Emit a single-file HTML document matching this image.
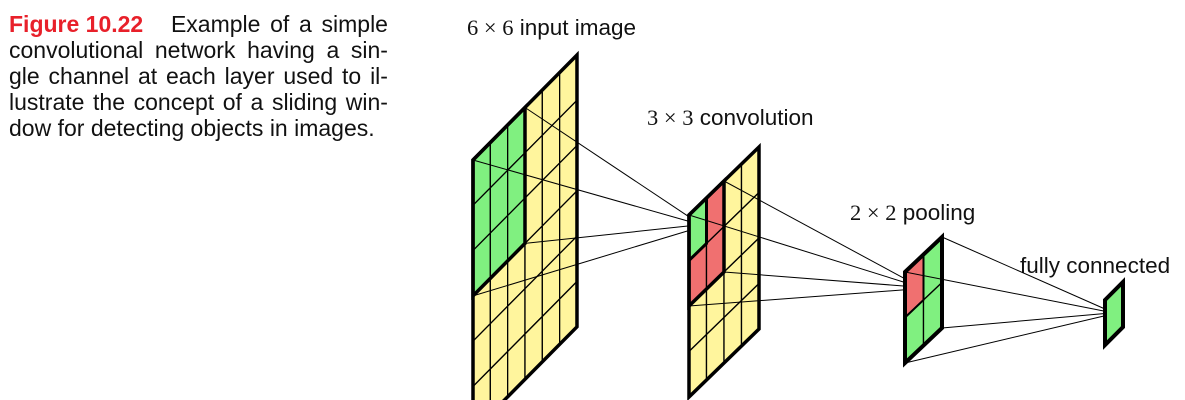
<!DOCTYPE html>
<html><head><style>
body{margin:0;width:1185px;height:400px;background:#fff;position:relative;overflow:hidden;font-family:"Liberation Sans",sans-serif;}
.cap{position:absolute;left:9px;top:11px;width:379px;font-size:23px;line-height:26px;color:#111;}
.cap div{white-space:nowrap;display:flex;justify-content:space-between;}
.cap div.last{display:block;}
.cap b{color:#e8202a;}
.lab{position:absolute;font-size:22.5px;line-height:normal;color:#111;white-space:nowrap;}
.lab i{font-family:"Liberation Serif",serif;font-style:normal;}
</style></head><body>
<div class="cap">
<div><b>Figure 10.22</b><span style="margin-left:18px">Example</span><span>of</span><span>a</span><span>simple</span></div>
<div><span>convolutional</span><span>network</span><span>having</span><span>a</span><span>sin-</span></div>
<div><span>gle</span><span>channel</span><span>at</span><span>each</span><span>layer</span><span>used</span><span>to</span><span>il-</span></div>
<div><span>lustrate</span><span>the</span><span>concept</span><span>of</span><span>a</span><span>sliding</span><span>win-</span></div>
<div class="last">dow for detecting objects in images.</div>
</div>
<div class="lab" style="left:467px;top:15px"><i>6 × 6</i> input image</div>
<div class="lab" style="left:647px;top:105px"><i>3 × 3</i> convolution</div>
<div class="lab" style="left:850px;top:200px"><i>2 × 2</i> pooling</div>
<div class="lab" style="left:1020px;top:253px">fully connected</div>
<svg width="1185" height="400" style="position:absolute;left:0;top:0" id="s"></svg>
<script>
const s=document.getElementById('s');
let out='';
function P(x0,y0,cw,dy,rh,c,r){return [x0+c*cw,y0-c*dy+r*rh];}
function poly(pts,fill,sw){out+=`<polygon points="${pts.map(p=>p.join(',')).join(' ')}" fill="${fill||'none'}" stroke="#000" stroke-width="${sw}" stroke-linejoin="miter"/>`;}
function line(a,b,w){out+=`<line x1="${a[0]}" y1="${a[1]}" x2="${b[0]}" y2="${b[1]}" stroke="#000" stroke-width="${w||1}"/>`;}
function layer(x0,y0,cw,dy,rh,nc,nr,colorOf){
  for(let c=0;c<nc;c++)for(let r=0;r<nr;r++){
    const f=P.bind(null,x0,y0,cw,dy,rh);
    poly([f(c,r),f(c+1,r),f(c+1,r+1),f(c,r+1)],colorOf(c,r),1.3);
  }
}
function rect(x0,y0,cw,dy,rh,c0,r0,c1,r1,w){const f=P.bind(null,x0,y0,cw,dy,rh);poly([f(c0,r0),f(c1,r0),f(c1,r1),f(c0,r1)],null,w);}
const Y='#fff59d',G='#80f080',R='#f07070';
const I=[473,160,17.33,17.5,45.3];
layer(...I,6,6,(c,r)=>(c<3&&r<3)?G:Y);
rect(...I,0,0,3,3,3.5);rect(...I,0,0,6,6,3.5);
const C=[689,215,17.5,17,45.5];
const cf=P.bind(null,...C);
const inf=P.bind(null,...I);
[[3,0],[0,0],[3,3],[0,3]].forEach((p,i)=>{line(inf(...p),cf(0,0.04+0.1*i));});
layer(...C,4,4,(c,r)=>(c==0&&r==0)?G:(c<2&&r<2)?R:Y);
rect(...C,0,0,1,1,3);rect(...C,0,0,2,2,3.5);rect(...C,0,0,4,4,3.5);
const Pp=[905,272,18.5,17.5,45.5];
const pf=P.bind(null,...Pp);
[[2,0],[0,0],[2,2],[0,2]].forEach((p,i)=>{line(cf(...p),pf(0,0.15+0.08*i));});
layer(...Pp,2,2,(c,r)=>(c==0&&r==0)?R:G);
rect(...Pp,0,0,1,1,2);rect(...Pp,0,0,2,2,4);
const F=[1105,300,18,18,45];
const ff=P.bind(null,...F);
[[2,0],[0,0],[2,2],[0,2]].forEach((p,i)=>{line(pf(...p),ff(0,0.2+0.05*i));});
poly([ff(0,0),ff(1,0),ff(1,1),ff(0,1)],G,4);
s.innerHTML=out;
</script>
</body></html>
